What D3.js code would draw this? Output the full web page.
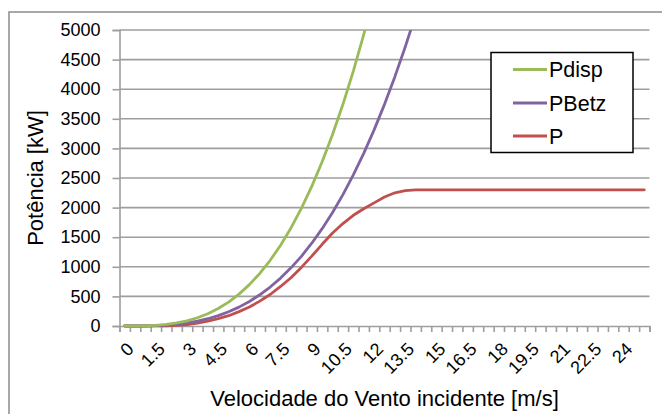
<!DOCTYPE html>
<html>
<head>
<meta charset="utf-8">
<script src="https://cdn.jsdelivr.net/npm/d3@7"></script>
<style>
  html, body { margin: 0; padding: 0; background: #fff; }
  svg { display: block; font-family: "Liberation Sans", Arial, sans-serif; }
</style>
</head>
<body>
<svg id="chart" width="662" height="414"></svg>
<script>
// Wind speed categories (m/s)
const categories = [0,0.5,1,1.5,2,2.5,3,3.5,4,4.5,5,5.5,6,6.5,7,7.5,8,8.5,9,9.5,10,10.5,11,11.5,12,12.5,13,13.5,14,14.5,15,15.5,16,16.5,17,17.5,18,18.5,19,19.5,20,20.5,21,21.5,22,22.5,23,23.5,24,24.5,25];
// Available power (kW), values above 5000 are off the chart
const pdisp = [0,0.4,3,11,26,51,87,139,207,295,404,538,699,888,1110,1365,1656,1987,2358,2774,3235,3745,4306,4920,5590];
// Betz limit power (kW)
const pbetz = [0,0.2,2,6.5,15,30,52,82,123,175,240,319,414,527,658,809,982,1177,1398,1644,1917,2219,2552,2916,3313,3744,4212,4717,5260];
// Turbine power (kW)
const p = [0,0,0,1,3,12,25,50,82,125,174,243,321,420,532,668,815,990,1180,1380,1570,1730,1870,1980,2080,2180,2250,2285,2300,2300,2300,2300,2300,2300,2300,2300,2300,2300,2300,2300,2300,2300,2300,2300,2300,2300,2300,2300,2300,2300,2300];
const yTicks = [0,500,1000,1500,2000,2500,3000,3500,4000,4500,5000];
const xTickLabels = ["0","1.5","3","4.5","6","7.5","9","10.5","12","13.5","15","16.5","18","19.5","21","22.5","24"];
const seriesNames = ["Pdisp","PBetz","P"];
const seriesColors = ["#9BBB59","#8064A2","#C0504D"];

const svg = d3.select("#chart");
const L = 119.5, R = 649.5, T = 30, B = 326;

// outer chart border (top and left visible)
svg.append("rect").attr("x",9).attr("y",12).attr("width",800).attr("height",600)
  .attr("fill","none").attr("stroke","#8c8c8c").attr("stroke-width",1.5);

const x = d3.scaleBand().domain(categories).range([L, R]).padding(0);
const xi = d3.scaleLinear().domain([0, categories.length]).range([L, R]);
const y = d3.scaleLinear().domain([0, 5000]).range([B, T]);
const cx = v => x(v) + x.bandwidth() / 2;

// gridlines
svg.append("g").selectAll("line").data(yTicks.filter(d => d > 0)).join("line")
  .attr("x1", L).attr("x2", R).attr("y1", d => y(d)).attr("y2", d => y(d))
  .attr("stroke","#9e9e9e").attr("stroke-width",1.6);

// y axis
const yAxis = svg.append("g").attr("transform", `translate(${L},0)`)
  .call(d3.axisLeft(y).tickValues(yTicks).tickSize(7).tickPadding(12).tickFormat(d3.format("d")));
yAxis.select(".domain").attr("stroke","#9e9e9e").attr("stroke-width",1.6);
yAxis.selectAll(".tick line").attr("stroke","#9e9e9e").attr("stroke-width",1.6);
yAxis.selectAll(".tick text").attr("font-size",18).attr("fill","#000")
  .attr("font-family","'Liberation Sans', Arial, sans-serif");

// x axis (ticks at category boundaries)
const xAxis = svg.append("g").attr("transform", `translate(0,${B})`)
  .call(d3.axisBottom(xi).tickValues(d3.range(categories.length + 1)).tickSize(6).tickFormat(""));
xAxis.select(".domain").attr("stroke","#9e9e9e").attr("stroke-width",1.6);
xAxis.selectAll(".tick line").attr("stroke","#9e9e9e").attr("stroke-width",1.6);

// x tick labels rotated -45
svg.append("g").selectAll("text").data(xTickLabels).join("text")
  .attr("transform", d => `translate(${cx(+d) + 1},${B + 15}) rotate(-45)`)
  .attr("text-anchor","end").attr("dy","0.72em")
  .attr("font-size",18).attr("fill","#000").text(d => d);

// clip
svg.append("clipPath").attr("id","plotclip").append("rect")
  .attr("x", L).attr("y", T).attr("width", R - L).attr("height", B - T + 3);

const line = d3.line().defined(d => d[1] != null)
  .x(d => cx(d[0])).y(d => y(d[1]));
const seriesData = [pdisp, pbetz, p];
const gLines = svg.append("g").attr("clip-path","url(#plotclip)");
[2,1,0].forEach(i => {
  const pts = seriesData[i].map((v, k) => [categories[k], v]);
  gLines.append("path").attr("d", line(pts)).attr("fill","none")
    .attr("stroke", seriesColors[i]).attr("stroke-width",2.8)
    .attr("stroke-linejoin","round").attr("stroke-linecap","round");
});

// axis titles
svg.append("text").attr("x", (L + R) / 2).attr("y", 406).attr("text-anchor","middle")
  .attr("font-size",22).attr("fill","#000").text("Velocidade do Vento incidente [m/s]");
svg.append("text").attr("transform", `translate(43,${(T + B) / 2}) rotate(-90)`)
  .attr("text-anchor","middle").attr("font-size",22).attr("fill","#000").text("Potência [kW]");

// legend
const lg = svg.append("g");
lg.append("rect").attr("x",491).attr("y",52.5).attr("width",142).attr("height",100)
  .attr("fill","#fff").attr("stroke","#000").attr("stroke-width",1.5);
const lgY = [69.5, 103, 136];
seriesNames.forEach((n, i) => {
  lg.append("line").attr("x1",513).attr("x2",547).attr("y1",lgY[i]).attr("y2",lgY[i])
    .attr("stroke", seriesColors[i]).attr("stroke-width",2.8);
  lg.append("text").attr("x",549).attr("y",lgY[i] + 7.5).attr("font-size",21.5)
    .attr("fill","#000").text(n);
});
</script>
</body>
</html>
